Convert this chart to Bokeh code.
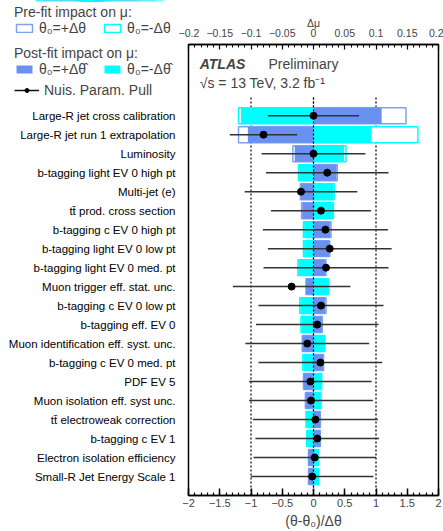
from bokeh.plotting import figure
from bokeh.layouts import row, column
from bokeh.core.properties import value
from bokeh.models import (Range1d, LinearAxis, SingleIntervalTicker,
                          CustomJSTickFormatter, Legend, LegendItem, Label, ColumnDataSource)
from bokeh.embed import file_html
from bokeh.resources import INLINE

# ---------------- data ----------------
names = [
    "Large-R jet cross calibration",
    "Large-R jet run 1 extrapolation",
    "Luminosity",
    "b-tagging light EV 0 high pt",
    "Multi-jet (e)",
    "t\u0074\u0304 prod. cross section",
    "b-tagging c EV 0 high pt",
    "b-tagging light EV 0 low pt",
    "b-tagging light EV 0 med. pt",
    "Muon trigger eff. stat. unc.",
    "b-tagging c EV 0 low pt",
    "b-tagging eff. EV 0",
    "Muon identification eff. syst. unc.",
    "b-tagging c EV 0 med. pt",
    "PDF EV 5",
    "Muon isolation eff. syst unc.",
    "t\u0074\u0304 electroweak correction",
    "b-tagging c EV 1",
    "Electron isolation efficiency",
    "Small-R Jet Energy Scale 1",
]
# impact on mu (Delta mu)
pre_plus = [0.148, -0.120, -0.033, 0.038, -0.021, -0.019, 0.028, 0.026, 0.020, -0.012,
            0.020, 0.014, -0.018, 0.016, -0.016, -0.013, 0.011, 0.011, -0.008, -0.008]
pre_minus = [-0.120, 0.167, 0.052, -0.024, 0.033, 0.031, -0.016, -0.016, -0.025, 0.024,
             -0.022, -0.020, 0.018, -0.017, 0.013, 0.012, -0.012, -0.011, 0.008, 0.008]
post_plus = [0.109, -0.105, -0.030, 0.037, -0.020, -0.018, 0.027, 0.025, 0.019, -0.012,
             0.019, 0.0134, -0.017, 0.0155, -0.0155, -0.0123, 0.0107, 0.0107, -0.0080, -0.0080]
post_minus = [-0.116, 0.093, 0.049, -0.023, 0.032, 0.033, -0.015, -0.015, -0.024, 0.0235,
              -0.021, -0.019, 0.017, -0.0165, 0.0123, 0.0117, -0.0117, -0.0107, 0.0075, 0.0075]
# nuisance parameter pulls
pull = [0.00, -0.80, 0.00, 0.22, -0.20, 0.12, 0.19, 0.26, 0.20, -0.35,
        0.12, 0.06, -0.10, 0.11, -0.05, -0.04, 0.03, 0.06, 0.02, -0.02]
pull_err = [0.73, 0.54, 0.83, 0.98, 0.90, 0.80, 1.00, 0.99, 1.00, 0.94,
            1.00, 0.98, 0.99, 0.99, 0.98, 0.99, 1.00, 0.99, 0.98, 0.98]
ref_lines = [-1, 0, 1]

# ---------------- styling / layout constants ----------------
FONT = "Liberation Sans"
BLUE = "#6991F2"
BLUE_LINE = "#7FA2F0"
CYAN = "#00FFFF"

W, H = 443, 531
LEFT_W = 178          # width of the label / legend column
LEG_H = 100           # height of the legend block
TOP, BOTTOM = 44, 35  # borders of the main frame
P_LEFT = 10           # left border of the main plot (frame starts at LEFT_W + P_LEFT)
Y_END = 23.75

n = len(names)
rows = list(range(n, 0, -1))

src = ColumnDataSource(dict(
    y=rows, name=names, pre_plus=pre_plus, pre_minus=pre_minus,
    post_plus=post_plus, post_minus=post_minus, pull=pull,
    lo=[a - b for a, b in zip(pull, pull_err)],
    hi=[a + b for a, b in zip(pull, pull_err)],
))

# ---------------- main plot ----------------
p = figure(width=W - LEFT_W, height=H, output_backend="svg", toolbar_location=None,
           x_range=Range1d(-2, 2), y_range=Range1d(0, Y_END), y_axis_location=None,
           min_border_left=P_LEFT, min_border_right=5, min_border_top=TOP,
           min_border_bottom=BOTTOM)
p.extra_x_ranges = {"dmu": Range1d(-0.2, 0.2)}
p.xgrid.visible = False
p.ygrid.visible = False
p.outline_line_color = "black"
p.outline_line_width = 1.5

fmt = CustomJSTickFormatter(code="""
const v = Math.round(tick*1000)/1000;
return v.toString().replace('-', '\\u2212');
""")

# bottom axis
xa = p.xaxis[0]
xa.ticker = SingleIntervalTicker(interval=0.5, num_minor_ticks=5)
xa.formatter = fmt
xa.major_tick_in = 7
xa.major_tick_out = 0
xa.minor_tick_in = 3
xa.minor_tick_out = 0
xa.major_tick_line_width = 1.5
xa.minor_tick_line_width = 1.2
xa.axis_line_width = 1.5
xa.major_label_standoff = 3
xa.major_label_text_font = FONT
xa.major_label_text_font_size = "11px"
xa.axis_label = "(\u03b8-\u03b8\u2080)/\u0394\u03b8"
xa.axis_label_text_font = FONT
xa.axis_label_text_font_style = "normal"
xa.axis_label_text_font_size = "14px"
xa.axis_label_standoff = 3

# top axis (delta mu)
ta = LinearAxis(x_range_name="dmu",
                ticker=SingleIntervalTicker(interval=0.05, num_minor_ticks=5),
                formatter=fmt)
ta.major_tick_in = 5
ta.major_tick_out = 0
ta.minor_tick_in = 3
ta.minor_tick_out = 0
ta.major_tick_line_width = 1.2
ta.minor_tick_line_width = 1.0
ta.axis_line_width = 1.5
ta.major_label_standoff = 8
ta.major_label_text_font = FONT
ta.major_label_text_font_size = "10.5px"
ta.axis_label = "\u0394\u03bc"
ta.axis_label_text_font = FONT
ta.axis_label_text_font_style = "normal"
ta.axis_label_text_font_size = "10.5px"
ta.axis_label_standoff = -3
p.add_layout(ta, "above")

# reference dotted lines
p.segment(x0=ref_lines, x1=ref_lines, y0=0, y1=n + 1,
          line_color="black", line_width=1.2, line_dash="2 2")

# pre-fit (hollow) impacts
p.hbar(y="y", left=0, right="pre_plus", height=0.84, source=src,
       x_range_name="dmu", fill_color="white", line_color=BLUE_LINE, line_width=1.5)
p.hbar(y="y", left=0, right="pre_minus", height=0.84, source=src,
       x_range_name="dmu", fill_color="white", line_color=CYAN, line_width=1.5)
# post-fit (filled) impacts
p.hbar(y="y", left=0, right="post_plus", height=0.84, source=src,
       x_range_name="dmu", fill_color=BLUE, line_color=None)
p.hbar(y="y", left=0, right="post_minus", height=0.84, source=src,
       x_range_name="dmu", fill_color=CYAN, line_color=None)

# central dotted line over the bars
p.segment(x0=[ref_lines[1]], x1=[ref_lines[1]], y0=0, y1=n + 1,
          line_color="black", line_width=1.2, line_dash="2 2")

# pulls
p.segment(x0="lo", x1="hi", y0="y", y1="y", source=src,
          line_color="#333333", line_width=1.5)
p.scatter(x="pull", y="y", source=src, size=7, color="black")

# ATLAS labels
p.add_layout(Label(x=-1.82, y=22.72, text="ATLAS", text_font=FONT, text_font_style="bold italic",
                   text_font_size="14px", text_baseline="middle"))
p.add_layout(Label(x=-0.72, y=22.72, text="Preliminary", text_font=FONT,
                   text_font_size="14px", text_baseline="middle"))
p.add_layout(Label(x=-1.82, y=21.72, text="\u221as = 13 TeV, 3.2 fb\u207b\u00b9", text_font=FONT,
                   text_font_size="14px", text_baseline="middle"))

# ---------------- parameter-name column (same row scale as the main frame) ----------------
main_frame_h = H - TOP - BOTTOM
lab_h = H - LEG_H
lab_frame_h = lab_h - BOTTOM
lab = figure(width=LEFT_W, height=lab_h, output_backend="svg", toolbar_location=None,
             x_range=Range1d(0, 1), y_range=Range1d(0, Y_END * lab_frame_h / main_frame_h),
             x_axis_location=None, y_axis_location=None,
             min_border_left=0, min_border_right=0, min_border_top=0,
             min_border_bottom=BOTTOM, outline_line_color=None)
lab.grid.visible = False
lab.text(x=1, y="y", text="name", source=src, x_offset=-3,
         text_align="right", text_baseline="middle",
         text_font=value(FONT), text_font_size=value("11.5px"), text_color="black")

# ---------------- legend block ----------------
# The legend swatches come from renderers of the same data, drawn with a
# y range that keeps the marks themselves out of view.
lf = figure(width=LEFT_W, height=LEG_H, output_backend="svg", toolbar_location=None,
            x_range=Range1d(-2, 2), y_range=Range1d(-1, 0),
            x_axis_location=None, y_axis_location=None,
            min_border_left=0, min_border_right=0, min_border_top=0, min_border_bottom=0,
            outline_line_color=None)
lf.grid.visible = False
lf.extra_x_ranges = {"dmu": Range1d(-0.2, 0.2)}

lg_pre_p = lf.hbar(y="y", left=0, right="pre_plus", height=0.84, source=src, x_range_name="dmu",
                   fill_color="white", line_color=BLUE_LINE, line_width=1.5)
lg_pre_m = lf.hbar(y="y", left=0, right="pre_minus", height=0.84, source=src, x_range_name="dmu",
                   fill_color="white", line_color=CYAN, line_width=1.5)
lg_post_p = lf.hbar(y="y", left=0, right="post_plus", height=0.84, source=src, x_range_name="dmu",
                    fill_color=BLUE, line_color=None)
lg_post_m = lf.hbar(y="y", left=0, right="post_minus", height=0.84, source=src, x_range_name="dmu",
                    fill_color=CYAN, line_color=None)
lg_err = lf.segment(x0="lo", x1="hi", y0="y", y1="y", source=src,
                    line_color="#111111", line_width=1.5)
lg_dot = lf.scatter(x="pull", y="y", source=src, size=7, color="black")


def mk_legend(items, title, loc, gw=20):
    return Legend(items=items, title=title, location=loc, orientation="horizontal",
                  padding=0, margin=0, spacing=16, label_standoff=5,
                  glyph_width=gw, glyph_height=10, label_height=12,
                  border_line_color=None, background_fill_alpha=0,
                  label_text_font=FONT, label_text_font_size="14px",
                  title_text_font=FONT, title_text_font_size="14px",
                  title_text_font_style="normal", title_standoff=0)


leg1 = mk_legend([LegendItem(label="\u03b8\u2080=+\u0394\u03b8", renderers=[lg_pre_p]),
                  LegendItem(label="\u03b8\u2080=-\u0394\u03b8", renderers=[lg_pre_m])],
                 "Pre-fit impact on \u03bc:", (14, 64))
leg2 = mk_legend([LegendItem(label="\u03b8\u2080=+\u0394\u03b8\u0302", renderers=[lg_post_p]),
                  LegendItem(label="\u03b8\u2080=-\u0394\u03b8\u0302", renderers=[lg_post_m])],
                 "Post-fit impact on \u03bc:", (14, 23))
leg3 = mk_legend([LegendItem(label="Nuis. Param. Pull", renderers=[lg_err, lg_dot])],
                 None, (14, 2), gw=25)
for lg in (leg1, leg2, leg3):
    lf.add_layout(lg)

layout = row(column(lf, lab, spacing=0), p, spacing=0)

open("out.html", "w").write(file_html(layout, INLINE))
